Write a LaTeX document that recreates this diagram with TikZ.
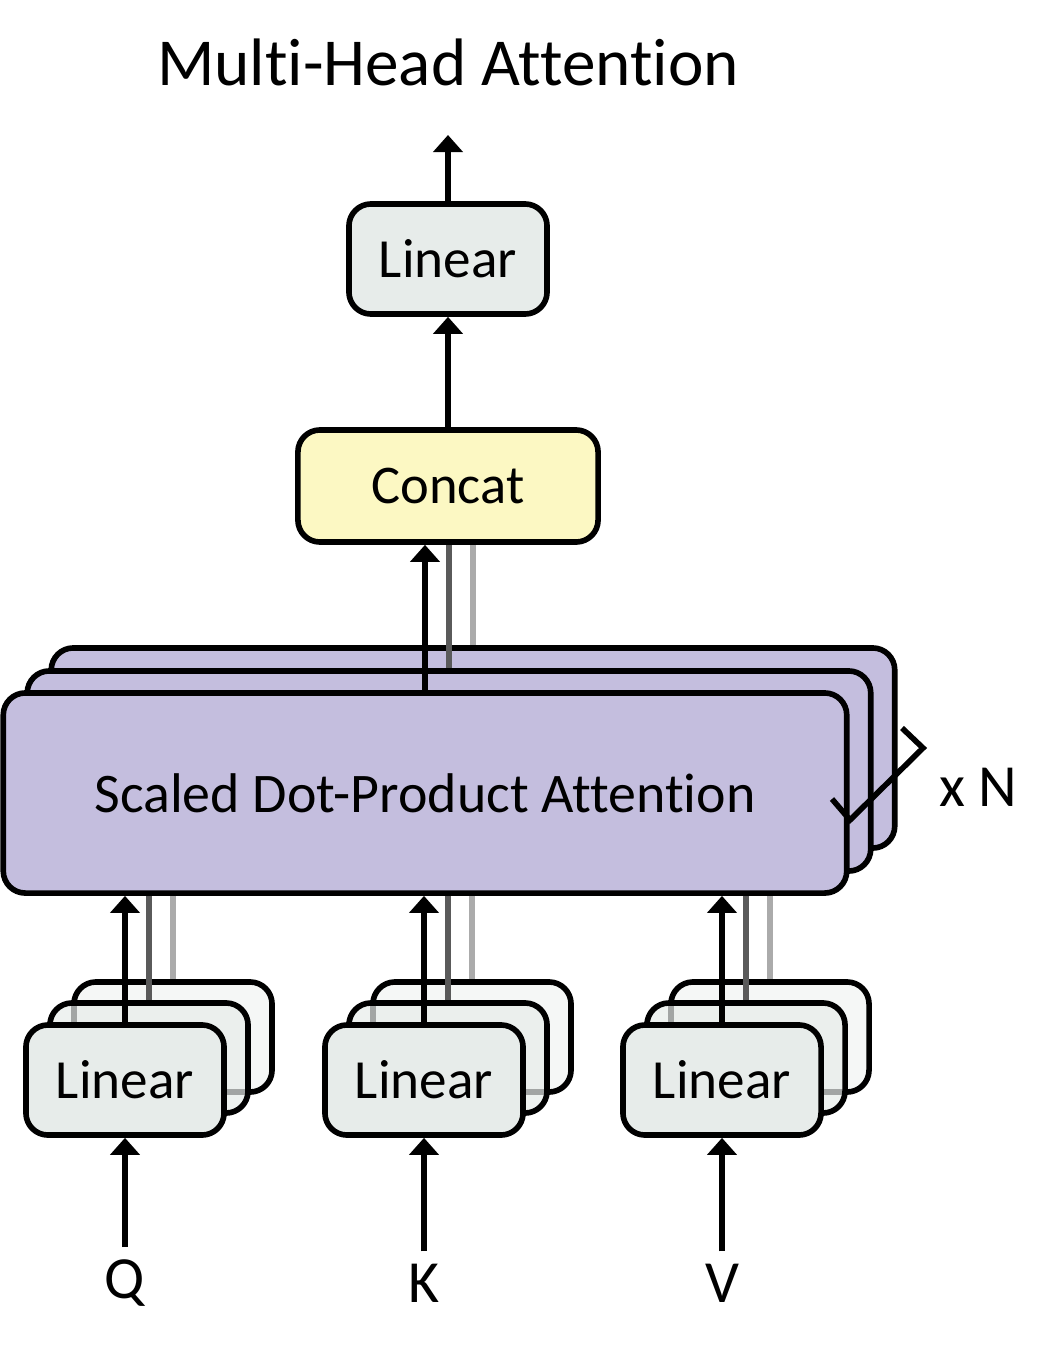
\documentclass[tikz,border=0pt]{standalone}
\usepackage{fontspec}
\setmainfont{Carlito}[Ligatures=NoCommon]
\usetikzlibrary{arrows.meta}

\definecolor{attFill}{HTML}{C4BEDE}
\definecolor{linFill}{HTML}{E7ECEA}
\definecolor{linBack}{HTML}{F5F7F6}
\definecolor{catFill}{HTML}{FCF8C3}
\definecolor{darkLine}{HTML}{5A5A5A}
\definecolor{lightLine}{HTML}{ABABAB}
\def\boxLine{1.6pt}

\begin{document}
\begin{tikzpicture}[x=0.01cm,y=-0.01cm,
    box/.style={draw, line width=\boxLine, rounded corners=2.2mm, inner sep=0pt},
    linbox/.style={box, minimum width=1.98cm, minimum height=1.1cm, fill=linFill,
        font=\fontsize{15.7}{18}\selectfont},
    attbox/.style={box, minimum width=8.43cm, minimum height=2cm, fill=attFill},
    arr/.style={line width=\boxLine, -{Triangle[width=2.9mm,length=1.7mm]}},
    darkline/.style={line width=\boxLine, draw=darkLine},
    lightline/.style={line width=\boxLine, draw=lightLine},
    lbl/.style={font=\fontsize{17}{20}\selectfont}]
    \useasboundingbox (0,0) rectangle (1057,1357);

    \node [font=\fontsize{19.1}{23}\selectfont] (title) at (448,62) {Multi-Head Attention};
    \coordinate (out) at (448,135);
    \node [linbox] (lintop) at (448,259) {Linear};
    \node [box, fill=catFill, minimum width=3cm, minimum height=1.12cm,
        font=\fontsize{15.5}{18}\selectfont] (concat) at (448,486) {Concat};
    \draw [arr] (lintop) -- (out);
    \draw [arr] (concat) -- (lintop);

    \node [attbox] (att2) at (473,748) {};
    \draw [lightline] (att2.north) -- (att2.north |- concat.south);
    \node [attbox] (att1) at (449,771) {};
    \draw [darkline] (att1.north) -- (att1.north |- concat.south);
    \node [attbox, font=\fontsize{15.9}{19}\selectfont] (att0) at (425,793)
        {Scaled Dot-Product Attention};
    \draw [arr] (att0.north) -- (att0.north |- concat.south);

    \draw [line width=\boxLine] (832,799) -- (850,820) -- (923,748) -- (902,728);
    \node [lbl] (times) at (978,787) {x N};

    \foreach \name/\x/\txt in {q/125/Q, k/424/K, v/722/V} {
        \node [linbox, fill=linBack] (\name2) at (\x+48,1037) {};
        \draw [lightline] (\name2.north) -- (\name2.north |- att0.south);
        \node [linbox, fill opacity=0.7] (\name1) at (\x+24,1058) {};
        \draw [darkline] (\name1.north) -- (\name1.north |- att0.south);
        \node [linbox] (\name0) at (\x,1080) {Linear};
        \draw [arr] (\name0.north) -- (\name0.north |- att0.south);
        \node [lbl] (\name in) at (\x,1283) {\txt};
        \draw [arr] (\name in) -- (\name0);
    }
\end{tikzpicture}
\end{document}
